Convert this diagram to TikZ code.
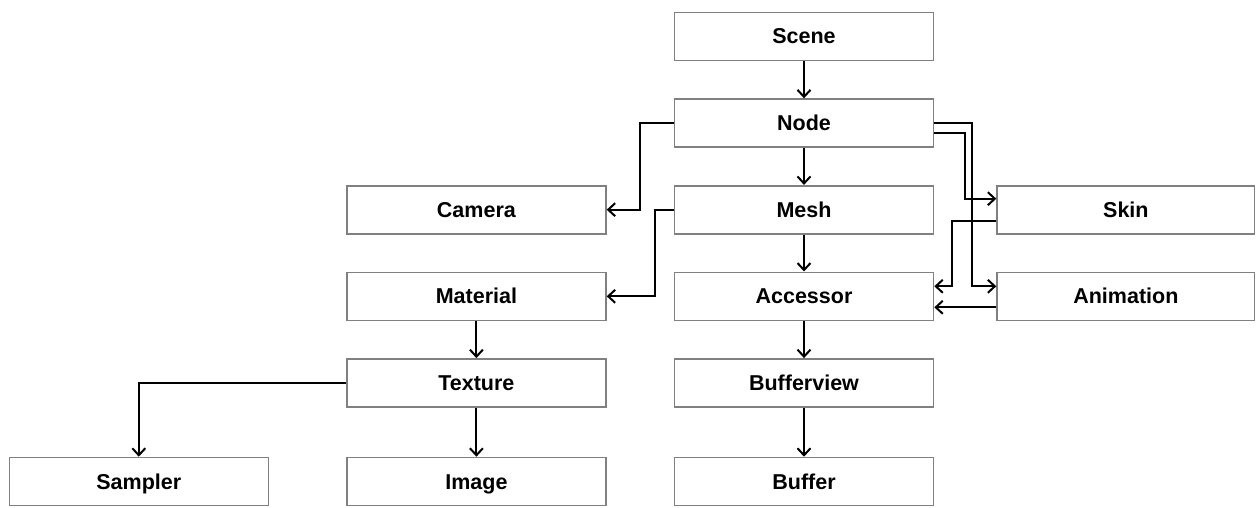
\documentclass[tikz,border=0pt]{standalone}
\usepackage{fontspec}
\setmainfont{Liberation Sans}
\usetikzlibrary{positioning,arrows.meta}

\begin{document}
\begin{tikzpicture}[x=1pt, y=-1pt, node distance={37pt and 67pt},
  box/.style = {draw=gray, line width=1.6pt, minimum width=259pt, minimum height=48pt, inner sep=0pt,
    text height=17pt, text depth=2pt, font=\fontsize{21.5}{24}\selectfont\bfseries},
  arr/.style = {draw=black, line width=2pt, -{Straight Barb[length=7pt,width=13pt,line width=2pt]}}]
\useasboundingbox (0,0) rectangle (1256,508);
\node[box] (scene) at (804,36.5) {Scene};
\node[box] (nd) [below=of scene] {Node};
\node[box] (mesh) [below=of nd] {Mesh};
\node[box] (accessor) [below=of mesh] {Accessor};
\node[box] (bufferview) [below=of accessor] {Bufferview};
\node[box] (buffer) [below=49pt of bufferview] {Buffer};
\node[box] (camera) [left=of mesh] {Camera};
\node[box] (material) [left=of accessor] {Material};
\node[box] (texture) [left=of bufferview] {Texture};
\node[box] (image) [left=of buffer] {Image};
\node[box] (sampler) [left=77pt of image] {Sampler};
\node[box, minimum width=257.5pt] (skin) [right=62pt of mesh] {Skin};
\node[box, minimum width=257.5pt] (animation) [right=62pt of accessor] {Animation};
% main column
\draw[arr] (scene) -- (nd);
\draw[arr] (nd) -- (mesh);
\draw[arr] (mesh) -- (accessor);
\draw[arr] (accessor) -- (bufferview);
\draw[arr] (bufferview) -- (buffer);
% left side
\draw[arr] (nd.west) -- ++(-34,0) |- (camera.east);
\draw[arr] (mesh.west) -- ++(-19,0) |- (material.east);
\draw[arr] (material) -- (texture);
\draw[arr] (texture) -- (image);
\draw[arr] (texture.west) -| (sampler.north);
% right side
\draw[arr] (nd.east) -- ++(38,0) |- ([yshift=10pt]animation.west);
\draw[arr] ([yshift=-10pt]nd.east) -- ++(31,0) |- ([yshift=11pt]skin.west);
\draw[arr] ([yshift=-11pt]skin.west) -- ++(-44,0) |- ([yshift=10pt]accessor.east);
\draw[arr] ([yshift=-11pt]animation.west) -- ([yshift=-11pt]accessor.east);
\end{tikzpicture}
\end{document}
